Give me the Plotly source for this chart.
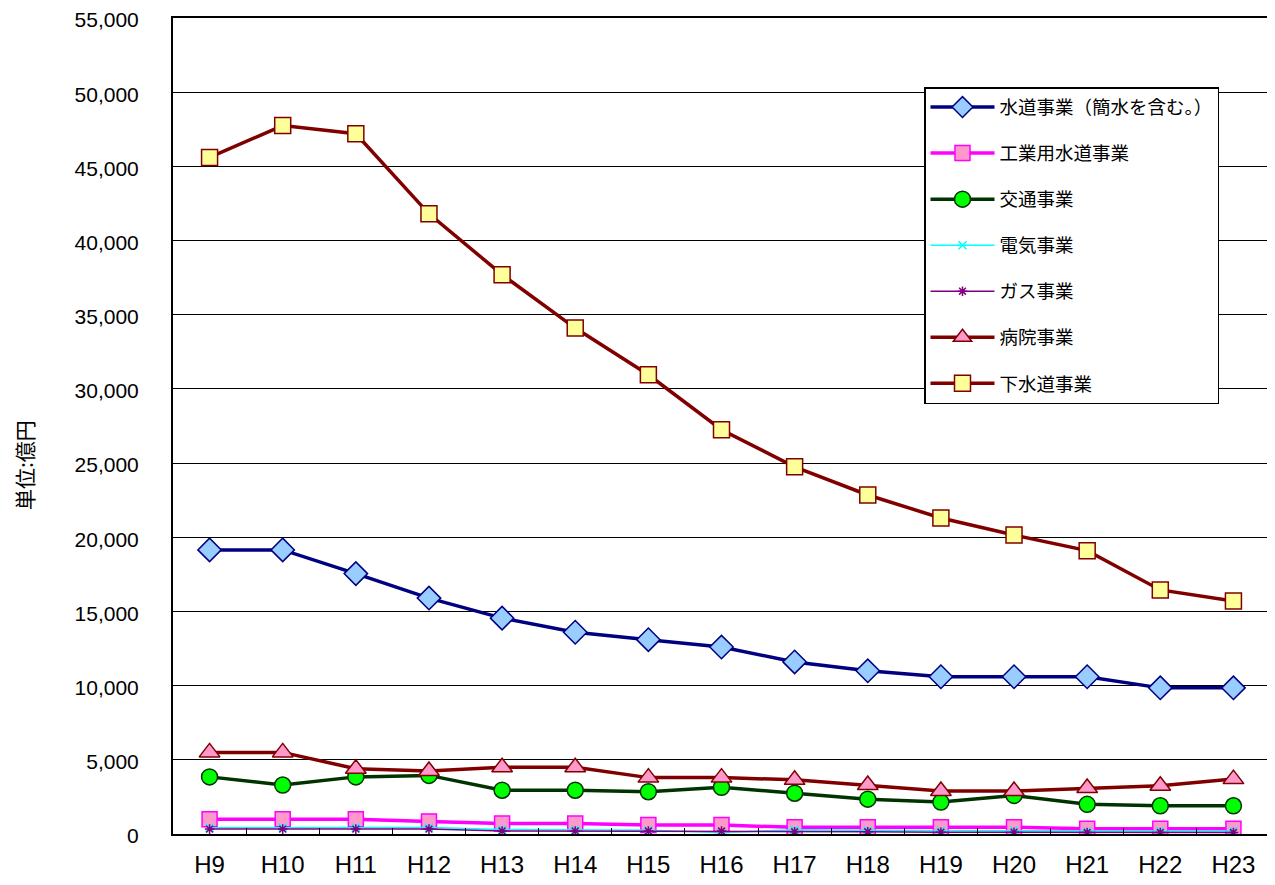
import plotly.graph_objects as go

years = ["H9", "H10", "H11", "H12", "H13", "H14", "H15", "H16", "H17", "H18", "H19", "H20", "H21", "H22", "H23"]

water = [19150, 19150, 17550, 15900, 14550, 13600, 13100, 12600, 11600, 11000, 10600, 10600, 10600, 9850, 9850]
industrial_water = [1000, 1000, 1000, 850, 700, 700, 600, 600, 450, 450, 450, 450, 350, 350, 350]
transport = [3850, 3300, 3850, 3950, 2950, 2950, 2850, 3150, 2750, 2350, 2150, 2600, 2000, 1900, 1900]
electric = [420, 430, 430, 440, 300, 300, 250, 100, 280, 250, 230, 230, 200, 200, 200]
gas = [330, 330, 330, 330, 200, 200, 200, 200, 150, 150, 120, 120, 100, 100, 100]
hospital = [5500, 5500, 4400, 4250, 4500, 4500, 3800, 3800, 3650, 3300, 2900, 2900, 3100, 3250, 3700]
sewer = [45600, 47750, 47200, 41800, 37700, 34100, 30950, 27250, 24750, 22850, 21300, 20150, 19100, 16450, 15700]

series = [
    ("水道事業（簡水を含む。）", water, "#000080", 3.5, "diamond", 18, "#99CCFF", "#000080"),
    ("工業用水道事業", industrial_water, "#FF00FF", 3.5, "square", 15, "#FF99CC", "#FF00FF"),
    ("交通事業", transport, "#003300", 3.5, "circle", 16, "#00FF00", "#003300"),
    ("電気事業", electric, "#00FFFF", 1.5, "x-thin", 8, "#00FFFF", "#00FFFF"),
    ("ガス事業", gas, "#800080", 1.5, "asterisk", 8, "#800080", "#800080"),
    ("病院事業", hospital, "#800000", 3.5, "triangle-up", 18, "#FF99CC", "#800000"),
    ("下水道事業", sewer, "#800000", 3.5, "square", 16, "#FFFF99", "#800000"),
]

fig = go.Figure()
for i, (name, vals, lc, lw, sym, ms, fill, edge) in enumerate(series):
    fig.add_trace(go.Scatter(
        x=years, y=vals, name=name, mode="lines+markers",
        legendgroup=f"g{i}",
        line=dict(color=lc, width=lw),
        marker=dict(symbol=sym, size=ms, color=fill,
                    line=dict(color=edge, width=1.5)),
    ))

fig.add_annotation(
    text="単位:億円", textangle=-90, showarrow=False,
    xref="paper", yref="paper", x=-(173 - 24) / 1097, y=(834 - 465) / 816,
    xanchor="center", yanchor="middle",
    font=dict(family="Noto Sans CJK JP, sans-serif", size=21, color="black"),
)

# page body has an 8px margin, so the figure is offset by 8px
fig.update_layout(
    width=1275, height=885,
    margin=dict(l=165, r=13, t=10, b=59, autoexpand=False),
    paper_bgcolor="white", plot_bgcolor="white",
    font=dict(family="Liberation Sans, Arial, sans-serif", size=20, color="black"),
    showlegend=True,
    legend=dict(
        x=(924 - 173) / 1097, y=(834 - 87) / 816, xanchor="left", yanchor="top",
        bgcolor="white", bordercolor="black", borderwidth=1.5,
        font=dict(family="Noto Sans CJK JP, sans-serif", size=18.5, color="black"),
        tracegroupgap=19, traceorder="grouped", itemwidth=64,
    ),
    xaxis=dict(
        type="category", showline=True, linecolor="black", linewidth=2,
        mirror=True, ticks="inside", tickson="boundaries", ticklen=6,
        tickcolor="black", showgrid=False, automargin=False,
        ticklabelstandoff=8,
        tickfont=dict(family="Liberation Sans Narrow, Liberation Sans, Arial", size=24),
        range=[-0.5, 14.5],
    ),
    yaxis=dict(
        range=[0, 55000], dtick=5000, tickformat=",d",
        showline=True, linecolor="black", linewidth=2, mirror=True,
        ticks="inside", ticklen=6, tickcolor="black",
        showgrid=True, gridcolor="black", gridwidth=1.3,
        zeroline=False, automargin=False, ticklabelstandoff=28,
        ticklabeloverflow="allow", ticklabelshift=2,
        tickfont=dict(family="Liberation Sans, Arial", size=21),
    ),
)

fig.write_html("out.html")
